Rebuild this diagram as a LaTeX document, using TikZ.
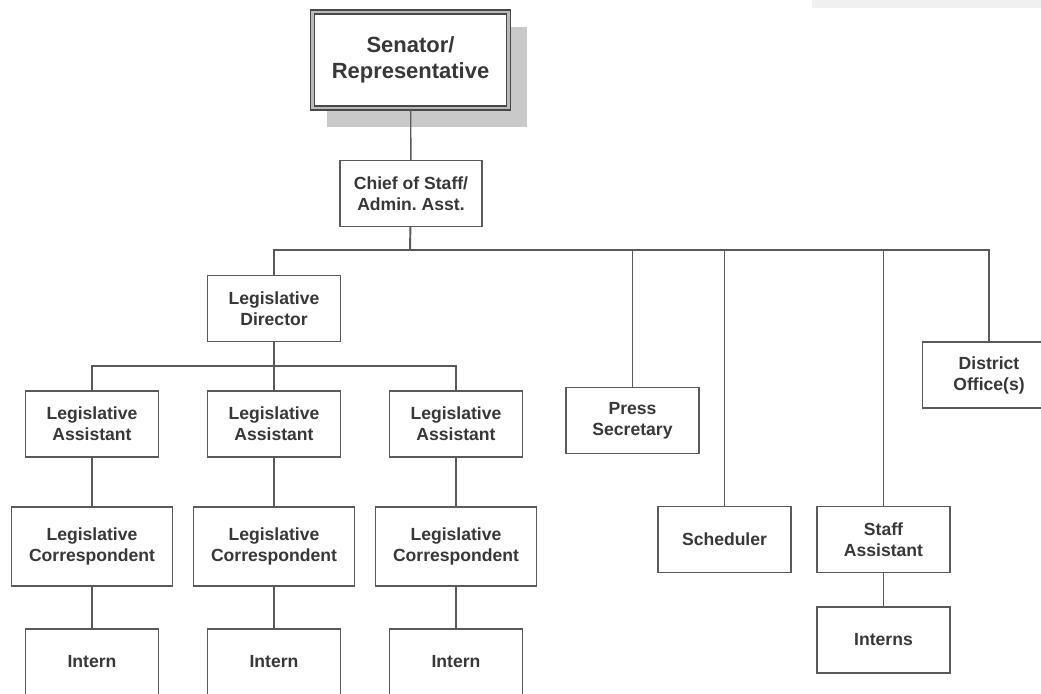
\documentclass[tikz,border=0pt]{standalone}
\usepackage{fontspec}
\setmainfont{Liberation Sans}
\usepackage{tikz}
\usetikzlibrary{positioning, calc}
\frenchspacing

\definecolor{boxline}{HTML}{5A5A5A}
\definecolor{boxtext}{HTML}{383838}
\definecolor{shadowgray}{HTML}{C9C9C9}

\tikzset{
  staffbox/.style={draw=boxline, line width=0.8pt, fill=white, text=boxtext,
    align=center, font=\bfseries\fontsize{10}{12}\selectfont,
    minimum width=2.66cm, minimum height=1.32cm, inner sep=2pt},
  widebox/.style={staffbox, minimum width=3.22cm, minimum height=1.58cm},
  topbox/.style={staffbox, draw=boxline!80!black, line width=1pt,
    double=gray!55, double distance=1.2pt,
    font=\bfseries\fontsize{12.5}{15}\selectfont,
    minimum width=3.92cm, minimum height=1.92cm},
  link/.style={draw=boxline, line width=0.8pt}
}

\begin{document}
\begin{tikzpicture}[x=0.02cm, y=-0.02cm]
                \useasboundingbox (0,0) rectangle (1041,693);
                \clip (0,0) rectangle (1041,693);
                \fill[white] (0,0) rectangle (1041,693);
                \fill[gray!12] (812,0) rectangle (1041,8);

                % Top of the office
                \fill[shadowgray] (327,27) rectangle (527,127);
                \node[topbox] (senator) at (410.5,60) {Senator/\\Representative};
                \node[staffbox, minimum width=2.84cm] (chief) at (411,193.5) {Chief of Staff/\\Admin. Asst.};
                \coordinate (bus) at (410,250);

                % Legislative side
                \node[staffbox] (legdir) at (274,308.5) {Legislative\\Director};
                \coordinate (ldbus) at (274,366);
                \node[staffbox] (la1) at (92,424) {Legislative\\Assistant};
                \node[staffbox] (la2) at (274,424) {Legislative\\Assistant};
                \node[staffbox] (la3) at (456,424) {Legislative\\Assistant};
                \node[widebox] (lc1) at (92,546.5) {Legislative\\Correspondent};
                \node[widebox] (lc2) at (274,546.5) {Legislative\\Correspondent};
                \node[widebox] (lc3) at (456,546.5) {Legislative\\Correspondent};
                \node[staffbox] (in1) at (92,662) {Intern};
                \node[staffbox] (in2) at (274,662) {Intern};
                \node[staffbox] (in3) at (456,662) {Intern};

                % Other staff
                \node[staffbox] (press) at (632.5,420.5) {Press\\Secretary};
                \node[staffbox] (sched) at (724.5,539.5) {Scheduler};
                \node[staffbox] (staffasst) at (883.5,539.5) {Staff\\Assistant};
                \node[staffbox] (interns) at (883.5,640) {Interns};
                \node[staffbox] (district) at (989,375) {District\\Office(s)};

                % Lines
                \draw[link] (senator) -- (chief);
                \draw[link, line width=1.1pt] (chief) -- (bus);
                \draw[link, line width=1.1pt] (legdir.north) |- (bus);
                \draw[link, line width=1.1pt] (district.north) |- (bus);
                \draw[link] (press.north) |- (bus);
                \draw[link] (sched.north) |- (bus);
                \draw[link] (staffasst.north) |- (bus);
                \draw[link] (legdir) -- (ldbus);
                \draw[link] (la1.north) |- (ldbus);
                \draw[link] (la3.north) |- (ldbus);
                \draw[link] (ldbus) -- (la2);
                \draw[link] (la1) -- (lc1);
                \draw[link] (la2) -- (lc2);
                \draw[link] (la3) -- (lc3);
                \draw[link] (lc1) -- (in1);
                \draw[link] (lc2) -- (in2);
                \draw[link] (lc3) -- (in3);
                \draw[link] (staffasst) -- (interns);
            \end{tikzpicture}
\end{document}
